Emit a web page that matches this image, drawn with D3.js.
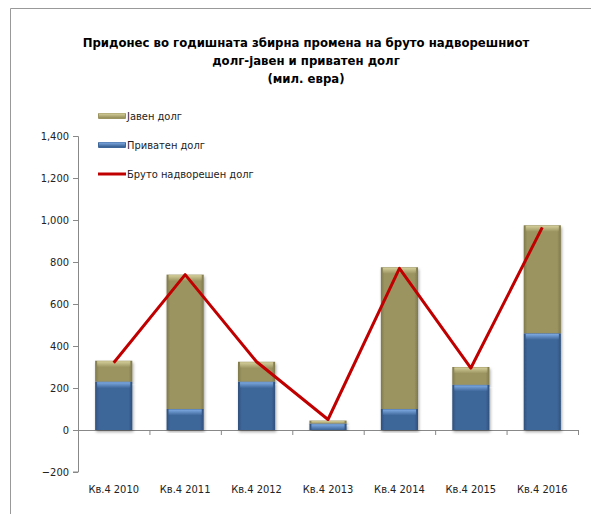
<!DOCTYPE html>
<meta charset="utf-8">
<style>
body { margin: 0; background: #fff; }
text { font-family: "DejaVu Sans Condensed", "DejaVu Sans", sans-serif; fill: #222; }
.title { font-weight: bold; font-size: 13px; fill: #000; }
.axis text { font-size: 11px; }
.axis path, .axis line { stroke: #888; }
.legend text { font-size: 11px; }
</style>
<svg width="591" height="514"></svg>
<script src="https://d3js.org/d3.v7.min.js"></script>
<script>

var svg = d3.select("svg"),
    margin = {top: 136, right: 13, bottom: 42, left: 78},
    width = 500,
    height = 336;

var data = [
  {q: "Кв.4  2010", priv: 230, pub: 100, total: 320},
  {q: "Кв.4 2011", priv: 100, pub: 640, total: 740},
  {q: "Кв.4 2012", priv: 230, pub: 95, total: 325},
  {q: "Кв.4 2013", priv: 30, pub: 15, total: 50},
  {q: "Кв.4 2014", priv: 100, pub: 675, total: 770},
  {q: "Кв.4 2015", priv: 215, pub: 85, total: 295},
  {q: "Кв.4 2016", priv: 460, pub: 515, total: 965}
];

// frame (top and left edges only show)
svg.append("path")
    .attr("d", "M10.5,514V8.5H591")
    .attr("fill", "none")
    .attr("stroke", "#999");

var title = svg.append("text")
    .attr("class", "title")
    .attr("text-anchor", "middle");
["Придонес во годишната збирна промена на бруто надворешниот",
 "долг-јавен и приватен долг",
 "(мил. евра)"].forEach(function(t, i) {
  title.append("tspan").attr("x", 306).attr("y", 47 + i * 18).text(t);
});

var defs = svg.append("defs");
function grad(id, c0, c2) {
  var g = defs.append("linearGradient").attr("id", id)
      .attr("x1", 0).attr("x2", 1).attr("y1", 0).attr("y2", 0);
  g.append("stop").attr("offset", "0%").attr("stop-color", c2);
  g.append("stop").attr("offset", "10%").attr("stop-color", c0);
  g.append("stop").attr("offset", "90%").attr("stop-color", c0);
  g.append("stop").attr("offset", "100%").attr("stop-color", c2);
}
grad("gPub", "#9b9461", "#7f784b");
grad("gPriv", "#3e6699", "#2f507c");
function vgrad(id, c) {
  var g = defs.append("linearGradient").attr("id", id)
      .attr("x1", 0).attr("x2", 0).attr("y1", 0).attr("y2", 1);
  g.append("stop").attr("offset", "0%").attr("stop-color", c).attr("stop-opacity", 1);
  g.append("stop").attr("offset", "100%").attr("stop-color", c).attr("stop-opacity", 0);
}
vgrad("hPub", "#d4ce9a");
vgrad("hPriv", "#7eaae2");
var sh = defs.append("filter").attr("id", "shadow").attr("x", "-20%").attr("width", "140%").attr("height", "120%");
sh.append("feDropShadow").attr("dx", 1).attr("dy", 2).attr("stdDeviation", 1.5).attr("flood-opacity", 0.35);

var g = svg.append("g")
    .attr("transform", "translate(" + margin.left + "," + margin.top + ")");

var x = d3.scaleBand().domain(data.map(function(d) { return d.q; })).range([0, width]).paddingInner(0.48).paddingOuter(0.24),
    y = d3.scaleLinear().domain([-200, 1400]).range([height, 0]);

var xc = d3.scaleBand().domain(x.domain()).range([0, width]);

g.append("g")
    .attr("class", "axis")
    .call(d3.axisLeft(y).tickValues(d3.range(-200, 1401, 200)).tickSize(5).tickPadding(4).tickFormat(d3.format(",")))
    .call(function(a) { a.select(".domain").attr("d", "M-5,0.5H0.5V" + height + "H-5"); });

// zero line with category ticks
var xa = g.append("g")
    .attr("class", "axis")
    .attr("transform", "translate(0," + y(0) + ")");
xa.append("path").attr("d", "M0,0.5H" + width).attr("stroke", "#888");
xa.selectAll(".tk").data(d3.range(1, 8)).enter().append("line")
    .attr("x1", function(i) { return i * xc.bandwidth() + 0.5; })
    .attr("x2", function(i) { return i * xc.bandwidth() + 0.5; })
    .attr("y1", 0).attr("y2", 5);

g.append("g").attr("class", "axis")
  .selectAll("text").data(data).enter().append("text")
    .attr("x", function(d) { return xc(d.q) + xc.bandwidth() / 2; })
    .attr("y", y(-200) + 21)
    .attr("text-anchor", "middle")
    .text(function(d) { return d.q; });

var bars = g.selectAll(".bar").data(data).enter().append("g");

bars.append("rect")
    .attr("x", function(d) { return x(d.q); })
    .attr("width", x.bandwidth())
    .attr("y", function(d) { return y(d.priv + d.pub); })
    .attr("height", function(d) { return y(d.priv) - y(d.priv + d.pub); })
    .attr("fill", "url(#gPub)")
    .attr("filter", "url(#shadow)");
bars.append("rect")
    .attr("x", function(d) { return x(d.q) + 2; })
    .attr("width", x.bandwidth() - 4)
    .attr("y", function(d) { return y(d.priv + d.pub) + 0.5; })
    .attr("height", function(d) { return Math.min(6, y(d.priv) - y(d.priv + d.pub) - 0.5); })
    .attr("fill", "url(#hPub)");
bars.append("rect")
    .attr("x", function(d) { return x(d.q); })
    .attr("width", x.bandwidth())
    .attr("y", function(d) { return y(d.priv); })
    .attr("height", function(d) { return y(0) - y(d.priv); })
    .attr("fill", "url(#gPriv)")
    .attr("filter", "url(#shadow)");
bars.append("rect")
    .attr("x", function(d) { return x(d.q) + 2; })
    .attr("width", x.bandwidth() - 4)
    .attr("y", function(d) { return y(d.priv) + 0.5; })
    .attr("height", function(d) { return Math.min(6, y(0) - y(d.priv) - 0.5); })
    .attr("fill", "url(#hPriv)");

var line = d3.line()
    .x(function(d) { return xc(d.q) + xc.bandwidth() / 2; })
    .y(function(d) { return y(d.total); });

g.append("path")
    .datum(data)
    .attr("fill", "none")
    .attr("stroke", "#c00000")
    .attr("stroke-width", 3)
    .attr("stroke-linejoin", "round")
    .attr("d", line);

// legend
var legend = svg.append("g").attr("class", "legend").attr("transform", "translate(98,116)");
var items = [
  {name: "Јавен долг", type: "bar", fill: "#9b9461", light: "hPub"},
  {name: "Приватен долг", type: "bar", fill: "#3e6699", light: "hPriv"},
  {name: "Бруто надворешен долг", type: "line", fill: "#c00000"}
];
var li = legend.selectAll("g").data(items).enter().append("g")
    .attr("transform", function(d, i) { return "translate(0," + i * 29 + ")"; });
li.filter(function(d) { return d.type === "bar"; }).append("rect")
    .attr("x", 0).attr("y", -3).attr("width", 28).attr("height", 6).attr("rx", 1)
    .attr("fill", function(d) { return d.fill; });
li.filter(function(d) { return d.type === "bar"; }).append("rect")
    .attr("x", 1).attr("y", -2.5).attr("width", 26).attr("height", 4)
    .attr("fill", function(d) { return "url(#" + d.light + ")"; });
li.filter(function(d) { return d.type === "line"; }).append("line")
    .attr("x1", 0).attr("x2", 28).attr("y1", 0).attr("y2", 0)
    .attr("stroke", function(d) { return d.fill; }).attr("stroke-width", 3);
li.append("text").attr("x", 29).attr("y", 4).text(function(d) { return d.name; });

</script>
